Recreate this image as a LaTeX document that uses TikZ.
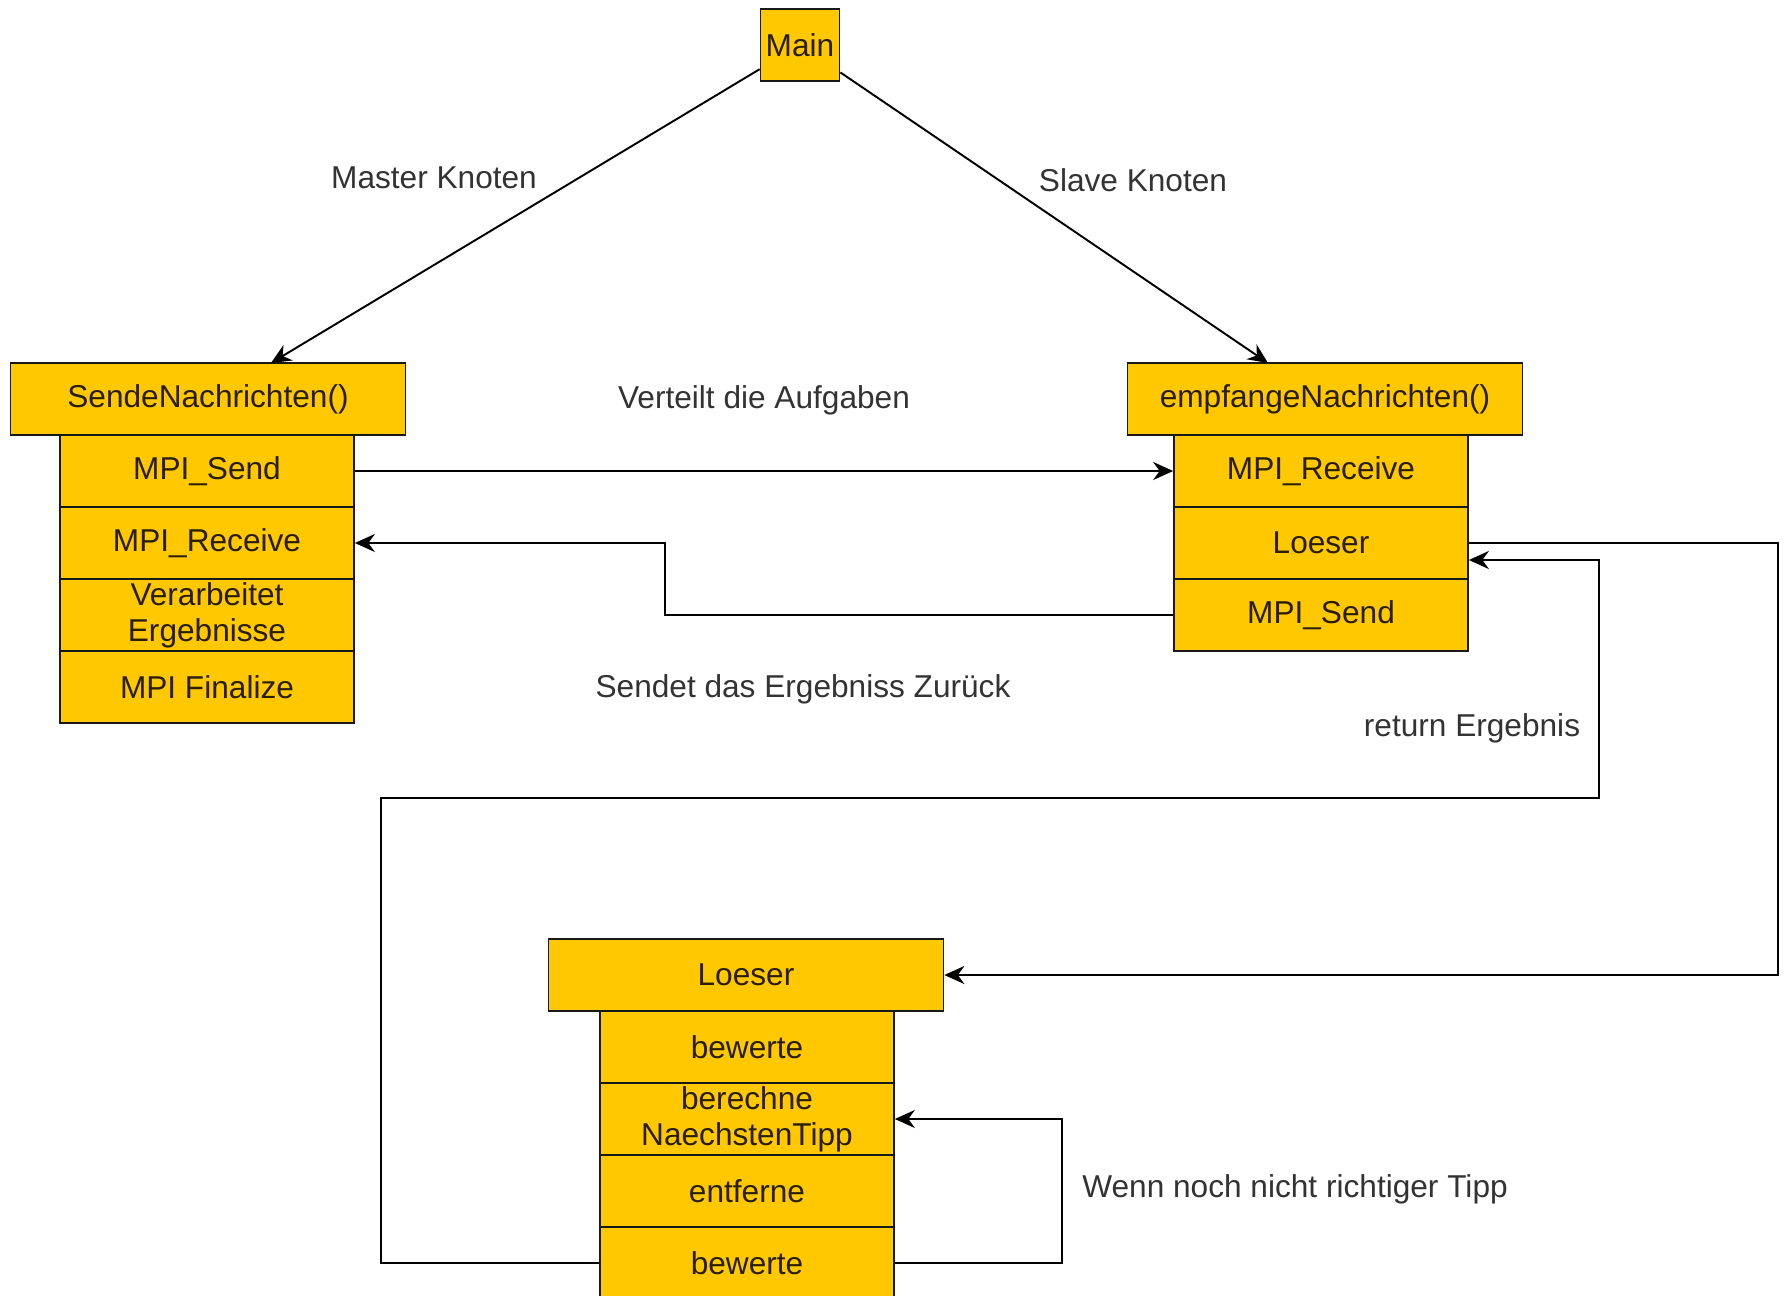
\documentclass[tikz,border=0pt]{standalone}
\usepackage{fontspec}
\setmainfont{Liberation Sans}
\usetikzlibrary{arrows.meta}
\definecolor{gelb}{RGB}{255,200,0}
\definecolor{schrift}{RGB}{40,30,10}

\begin{document}
\begin{tikzpicture}[x=0.02cm,y=-0.02cm,
  kopf/.style={draw=black!90, fill=gelb, line width=1pt, minimum width=7.9cm, minimum height=1.44cm, inner sep=0pt, text=schrift, font=\fontsize{18}{20.5}\selectfont},
  feld/.style={kopf, minimum width=5.88cm, align=center},
  etikett/.style={text=black!80, inner sep=0pt, font=\fontsize{18}{20.5}\selectfont},
  pfeil/.style={line width=1.1pt, -{Stealth[length=0.4cm,width=0.36cm]}}]
\useasboundingbox (0,0) rectangle (1791,1295);
\clip (0,0) rectangle (1791,1295);
\fill [white] (0,0) rectangle (1791,1295);

\node [kopf, minimum width=1.58cm] (main) at (800,45) {Main};

\node [kopf] (sHead) at (208,399) {SendeNachrichten()};
\node [feld] (sSend) at (207,471) {MPI\_Send};
\node [feld] (sRecv) at (207,543) {MPI\_Receive};
\node [feld] (sVerarb) at (207,615) {Verarbeitet\\Ergebnisse};
\node [feld] (sFinal) at (207,687) {MPI Finalize};

\node [kopf] (eHead) at (1325,399) {empfangeNachrichten()};
\node [feld] (eRecv) at (1321,471) {MPI\_Receive};
\node [feld] (eLoes) at (1321,543) {Loeser};
\node [feld] (eSend) at (1321,615) {MPI\_Send};

\node [kopf] (lHead) at (746,975) {Loeser};
\node [feld] (lBew) at (747,1047) {bewerte};
\node [feld] (lBer) at (747,1119) {berechne\\NaechstenTipp};
\node [feld] (lEntf) at (747,1191) {entferne};
\node [feld] (lBew2) at (747,1263) {bewerte};

\node [etikett] (tMaster) at (434,178) {Master Knoten};
\node [etikett] (tSlave) at (1133,180) {Slave Knoten};
\node [etikett] (tVerteilt) at (764,400) {Verteilt die Aufgaben};
\node [etikett] (tSendet) at (803,689) {Sendet das Ergebniss Zurück};
\node [etikett] (tReturn) at (1472,728) {return Ergebnis};
\node [etikett] (tWenn) at (1295,1189) {Wenn noch nicht richtiger Tipp};

\coordinate (mIn) at (271,363);
\coordinate (sIn) at (1268,363);
\coordinate (xA) at (665,0);
\coordinate (xB) at (1778,0);
\coordinate (cA) at (381,798);
\coordinate (cB) at (1599,798);
\coordinate (xC) at (1062,0);
\coordinate (rIn) at ([yshift=-0.34cm]eLoes.east);

\draw [pfeil] (main) -- (mIn);
\draw [pfeil] (main) -- (sIn);
\draw [pfeil] (sSend.east) -- (eRecv.west);
\draw [pfeil] (eSend.west) -- (eSend.west -| xA) -- (sRecv.east -| xA) -- (sRecv.east);
\draw [pfeil] (eLoes.east) -| (lHead.east -| xB) -- (lHead.east);
\draw [pfeil] (lBew2.west) -| (cA) -- (cB) |- (rIn);
\draw [pfeil] (lBew2.east) -| (lBer.east -| xC) -- (lBer.east);

\end{tikzpicture}
\end{document}
